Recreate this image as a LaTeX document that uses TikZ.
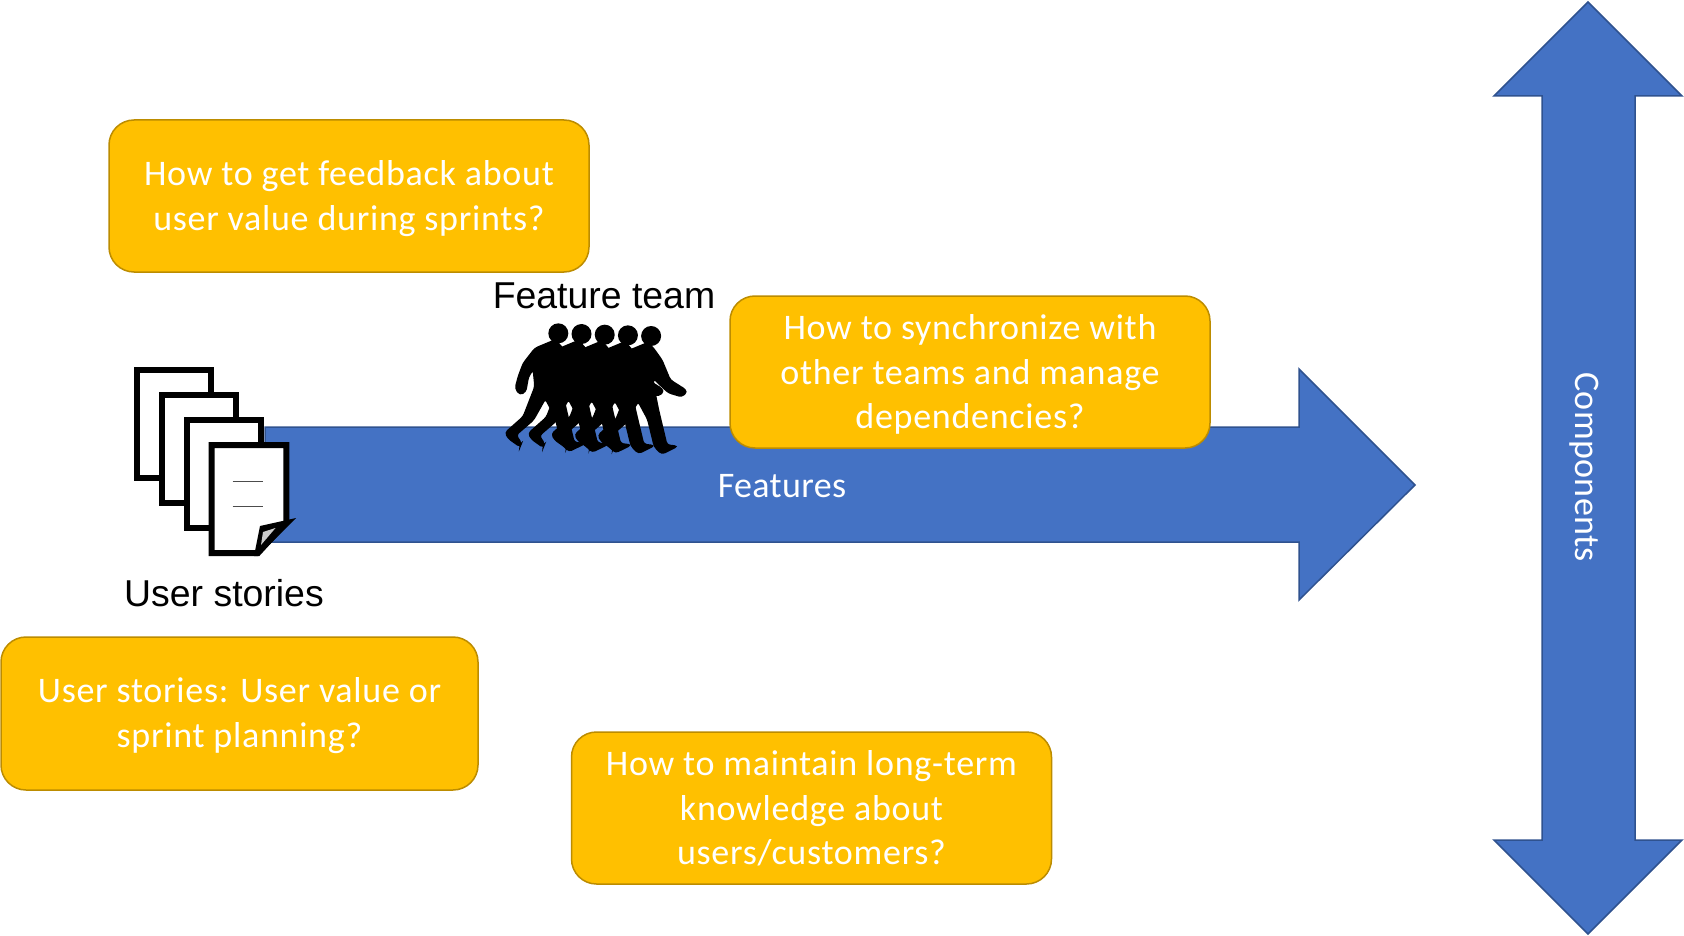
\documentclass[tikz,border=0pt]{standalone}
\usepackage{fontspec}
\setmainfont{Carlito}[LetterSpace=2]
\newfontfamily\labelfont{Carlito}[LetterSpace=1]
\newfontfamily\arialfont{Liberation Sans}
\definecolor{arrowblue}{HTML}{4472C4}
\definecolor{arrowedge}{HTML}{2F528F}
\definecolor{boxfill}{HTML}{FFC000}
\definecolor{boxedge}{HTML}{BC8C00}
\newcommand{\qtop}{\rule{0pt}{32.6pt}}
\newcommand{\qbot}{\rule[-8.5pt]{0pt}{8.5pt}}
\tikzset{
  question/.style={draw=boxedge,fill=boxfill,line width=1.5pt,rounded corners=25pt,
    text=white,align=center,minimum width=480pt,minimum height=152pt,inner sep=0pt,
    font=\fontsize{36}{44.5}\selectfont},
  bigarrow/.style={draw=arrowedge,fill=arrowblue,line width=1.5pt},
  arrowlabel/.style={text=white,font=\labelfont\fontsize{36}{44}\selectfont},
  caption/.style={text=black,font=\arialfont\fontsize{37.4}{44}\selectfont},
  sheet/.style={draw=black,fill=white,line width=6pt,miter limit=10},
}
\begin{document}
\begin{tikzpicture}[x=1pt,y=-1pt]
  \useasboundingbox (0,0) rectangle (1684,936);
  % arrows
  \draw[bigarrow] (265,427) -- (1299,427) -- (1299,369) -- (1415,485) -- (1299,600)
    -- (1299,542) -- (265,542) -- cycle;
  \draw[bigarrow] (1588,2) -- (1682,96) -- (1635,96) -- (1635,840) -- (1682,840) -- (1588,934)
    -- (1494,840) -- (1542,840) -- (1542,96) -- (1494,96) -- cycle;
  \node[arrowlabel] (features) at (782,486) {Features};
  \node[arrowlabel,rotate=-90] (components) at (1584,467) {Components};
  % user stories
  \foreach \k in {0,1,2}
    \draw[sheet,shift={(25*\k,25*\k)}] (136.5,370) rectangle (211,478);
  \draw[sheet] (211.5,445) -- (286.4,445) -- (286.4,522) -- (258,553) -- (211.5,553) -- cycle;
  \fill[black] (260,526) -- (296,518) -- (258,556) -- (254,556) -- cycle;
  \fill[black!20] (263,532) -- (275.5,528) -- (261,545) -- cycle;
  \draw[black!70,line width=1pt] (232.6,481) -- (263,481);
  \draw[black!70,line width=1pt] (232.6,506) -- (263,506);
  % feature team
  \foreach \k in {4,3,2,1,0} {
    \begin{scope}[shift={(480+23.2*\k,310+0.67*\k)},x=0.3333pt,y=-0.3333pt]
      \fill[black] (235,70) circle[radius=30];
      \filldraw[black,line width=1.5pt,rounded corners=3pt] (225,90) -- (165,115) -- (130,160) -- (115,200) -- (106,235)
        -- (120,254) -- (137,245) -- (145,200) -- (160,178) -- (165,230) -- (130,320) -- (76,368)
        -- (85,385) -- (120,410) -- (124,400) -- (108,375) -- (160,330) -- (196,266) -- (225,320)
        -- (245,402) -- (267,424) -- (314,401) -- (282,397) -- (257,292) -- (242,217) -- (242,197)
        -- (257,212) -- (287,240) -- (327,252) -- (343,237) -- (330,226) -- (292,202) -- (267,142)
        -- (242,107) -- cycle;
    \end{scope}
  }
  % labels
  \node[caption] (team) at (604,296) {Feature team};
  \node[caption] (stories) at (224,593) {User stories};
  % questions
  \node[question] (feedback) at (349,196) {\qtop How to get feedback about\\user value during sprints?\qbot};
  \node[question] (sync) at (970,372) {\qtop How to synchronize with\\other teams and manage\\dependencies?\qbot};
  \node[question,minimum width=477pt,minimum height=153pt] (planning) at (239.5,713.5) {\rule{0pt}{31pt}User stories: User value or\\sprint planning?\qbot};
  \node[question] (knowledge) at (811.5,808) {\qtop How to maintain long-term\\knowledge about\\users/customers?\qbot};
\end{tikzpicture}
\end{document}
